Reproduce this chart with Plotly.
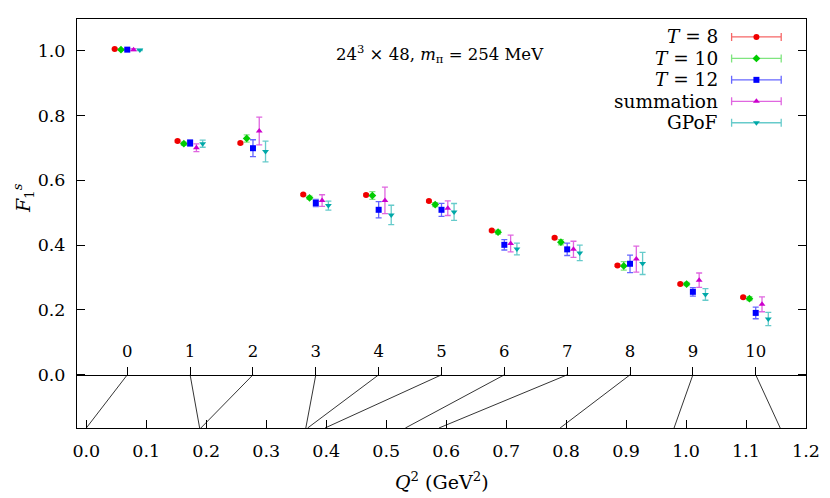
import plotly.graph_objects as go

# momentum index n and the Q^2 each one corresponds to (GeV^2)
cats = list(range(11))
q2 = [0.0, 0.189, 0.191, 0.366, 0.369, 0.398, 0.532, 0.588, 0.790, 0.980, 1.157]

names = ["<i>T</i> = 8", "<i>T</i> = 10", "<i>T</i> = 12", "summation", "GPoF"]

t8 = [1.005, 0.721, 0.715, 0.556, 0.555, 0.536, 0.445, 0.4225, 0.3375, 0.280, 0.239]
t8_err = [0.002, 0.003, 0.003, 0.003, 0.003, 0.003, 0.003, 0.003, 0.003, 0.003, 0.003]

t10 = [1.003, 0.713, 0.729, 0.546, 0.553, 0.525, 0.440, 0.409, 0.336, 0.280, 0.235]
t10_err = [0.002, 0.005, 0.011, 0.005, 0.012, 0.006, 0.006, 0.008, 0.013, 0.005, 0.006]

t12 = [1.003, 0.715, 0.699, 0.530, 0.509, 0.509, 0.401, 0.387, 0.3425, 0.256, 0.191]
t12_err = [0.002, 0.010, 0.026, 0.011, 0.025, 0.020, 0.016, 0.019, 0.027, 0.013, 0.018]

summ = [1.003, 0.7005, 0.752, 0.5375, 0.538, 0.514, 0.405, 0.387, 0.357, 0.292, 0.2175]
summ_err = [0.003, 0.012, 0.043, 0.018, 0.041, 0.0225, 0.026, 0.025, 0.040, 0.022, 0.023]

gpof = [1.002, 0.713, 0.689, 0.522, 0.493, 0.5025, 0.388, 0.376, 0.3435, 0.248, 0.172]
gpof_err = [0.002, 0.011, 0.032, 0.014, 0.030, 0.026, 0.018, 0.024, 0.034, 0.018, 0.0205]

series = [t8, t10, t12, summ, gpof]
errors = [t8_err, t10_err, t12_err, summ_err, gpof_err]

COLORS = ["#f00000", "#00cc00", "#0000ff", "#cc00cc", "#00a8a8"]
ERR_COLORS = ["rgba(240,0,0,0.6)", "rgba(0,204,0,0.5)", "rgba(0,0,255,0.6)",
              "rgba(204,0,204,0.6)", "rgba(0,168,168,0.6)"]
SYMBOLS = ["circle", "diamond", "square", "triangle-up", "triangle-down"]
OFFSETS = [-0.2, -0.1, 0.0, 0.1, 0.2]

FONT = "DejaVu Serif"
X1 = [-0.0155, 1.2]
X2 = [-0.8, 10.8]
Y = [-0.164, 1.0975]
zero_pos = (0 - Y[0]) / (Y[1] - Y[0])

# page body has an 8px margin, so the figure is drawn 8px in from the top-left
W, H = 822, 490
PL, PT, PR, PB = 69, 10, 18, 70
PW, PH = W - PL - PR, H - PT - PB


def px(x):  # window pixel -> paper x
    return (x - 8 - PL) / PW


def py(y):  # window pixel -> paper y
    return (H - PB + 8 - y) / PH


fig = go.Figure()

# connector lines: index position on the zero line -> real Q^2 at the bottom
cx, cy = [], []
for i, q in zip(cats, q2):
    c = X1[0] + (i - X2[0]) / (X2[1] - X2[0]) * (X1[1] - X1[0])
    cx += [c, q, None]
    cy += [0, Y[0], None]
fig.add_trace(go.Scatter(x=cx, y=cy, mode="lines", line=dict(color="black", width=0.8),
                         showlegend=False, hoverinfo="skip"))

for k in range(5):
    fig.add_trace(go.Scatter(
        x=[i + OFFSETS[k] for i in cats], y=series[k], xaxis="x2",
        mode="markers", name=names[k], showlegend=False,
        marker=dict(symbol=SYMBOLS[k], size=6, color=COLORS[k]),
        error_y=dict(type="data", array=errors[k], color=ERR_COLORS[k],
                     thickness=1.3, width=3),
    ))

# gnuplot-style key: text, then error-bar sample with marker
key_y = [36, 57.5, 79, 100.5, 122]
for k in range(5):
    fig.add_trace(go.Scatter(
        x=[px(762)], y=[py(key_y[k])], xaxis="x4", yaxis="y2",
        mode="markers", showlegend=False, hoverinfo="skip",
        marker=dict(symbol=SYMBOLS[k], size=6, color=COLORS[k]),
        error_x=dict(type="constant", value=25 / PW, color=ERR_COLORS[k],
                     thickness=1.3, width=4),
    ))
    fig.add_annotation(x=px(725), y=py(key_y[k]), xref="paper", yref="paper",
                       text=names[k], showarrow=False, xanchor="right", yanchor="middle",
                       font=dict(size=18.5, color="black", family=FONT))

fig.add_annotation(x=px(443), y=py(53), xref="paper", yref="paper",
                   text="24<sup>3</sup> × 48, <i>m</i><sub>π</sub> = 254 MeV", showarrow=False,
                   xanchor="center", yanchor="middle",
                   font=dict(size=16.5, color="black", family=FONT))
fig.add_annotation(x=px(445), y=py(481), xref="paper", yref="paper",
                   text="<i>Q</i><sup>2</sup> (GeV<sup>2</sup>)", showarrow=False,
                   xanchor="center", yanchor="middle",
                   font=dict(size=19, color="black", family=FONT))
fig.add_annotation(x=px(23), y=py(197), xref="paper", yref="paper",
                   text="<i>F</i><sub>1</sub><sup><i>s</i></sup>", showarrow=False, textangle=-90,
                   xanchor="center", yanchor="middle",
                   font=dict(size=19, color="black", family=FONT))

axis_common = dict(showgrid=False, zeroline=False, linecolor="black", linewidth=1,
                   tickcolor="black", ticklen=8, tickwidth=1,
                   tickfont=dict(size=17.5, color="black", family=FONT))

fig.update_layout(
    width=W, height=H,
    paper_bgcolor="white", plot_bgcolor="white",
    margin=dict(l=PL, r=PR, t=PT, b=PB),
    showlegend=False,
    font=dict(family=FONT, color="black"),
    xaxis=dict(range=X1, tickvals=[0.1 * j for j in range(13)],
               ticktext=[f"{0.1 * j:.1f}" for j in range(13)],
               ticks="inside", showline=True, mirror=True, ticklabelstandoff=7,
               **axis_common),
    xaxis2=dict(range=X2, overlaying="x", anchor="free", position=zero_pos, side="top",
                tickvals=cats, ticks="outside", showline=True, ticklabelstandoff=3,
                **{**axis_common, "tickfont": dict(size=16.5, color="black", family=FONT)}),
    xaxis3=dict(range=X2, overlaying="x", anchor="y", side="top", tickvals=cats,
                ticks="inside", showticklabels=False, showline=False,
                **{k: v for k, v in axis_common.items() if k != "tickfont"}),
    xaxis4=dict(range=[0, 1], overlaying="x", anchor="y2", visible=False),
    yaxis=dict(range=Y, tickvals=[0, 0.2, 0.4, 0.6, 0.8, 1.0],
               ticktext=["0.0", "0.2", "0.4", "0.6", "0.8", "1.0"],
               ticks="inside", showline=True, mirror="ticks", ticklabelstandoff=7,
               **axis_common),
    yaxis2=dict(range=[0, 1], overlaying="y", anchor="x4", visible=False),
)

fig.write_html("out.html")
